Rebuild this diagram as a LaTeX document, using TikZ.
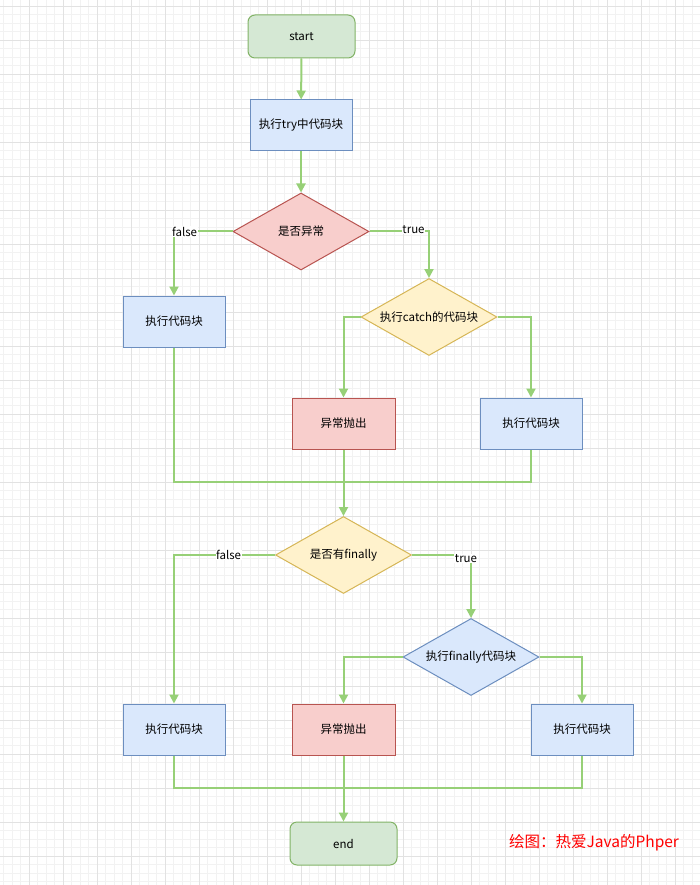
\documentclass[tikz,border=0pt]{standalone}
\usepackage{fontspec}
\setmainfont{Noto Sans CJK SC}
\usetikzlibrary{shapes.geometric,arrows.meta}
\definecolor{gfill}{HTML}{D5E8D4}\definecolor{gline}{HTML}{82B366}
\definecolor{bfill}{HTML}{DAE8FC}\definecolor{bline}{HTML}{6C8EBF}
\definecolor{rfill}{HTML}{F8CECC}\definecolor{rline}{HTML}{B85450}
\definecolor{yfill}{HTML}{FFF2CC}\definecolor{yline}{HTML}{D6B656}
\definecolor{edge}{HTML}{97D077}
\definecolor{gridminor}{HTML}{F2F2F2}\definecolor{gridmajor}{HTML}{E2E2E2}
\tikzset{
  base/.style={draw, line width=1pt, inner sep=0pt, font=\fontsize{11.5}{13}\selectfont},
  term/.style={base, draw=gline, fill=gfill, rounded corners=7pt, minimum width=107pt, minimum height=43pt},
  bluebox/.style={base, draw=bline, fill=bfill, minimum width=102pt, minimum height=51pt},
  redbox/.style={base, draw=rline, fill=rfill, minimum width=103pt, minimum height=51pt},
  decision/.style={base, diamond, aspect=1.77, minimum width=136pt, minimum height=77pt},
  flow/.style={draw=edge, line width=2pt, -{Triangle[length=9pt, width=9pt]}},
  link/.style={draw=edge, line width=2pt},
  lbl/.style={fill=white, inner sep=0.5pt, font=\fontsize{11.5}{13}\selectfont},
}
\begin{document}
\begin{tikzpicture}[x=1pt, y=-1pt]
\useasboundingbox (0,0) rectangle (700,885);
\fill[white] (0,0) rectangle (700,885);
% Raster
\foreach \i in {0,...,82} {
  \draw[gridminor, line width=0.8pt] ({3.8+8.5*\i},0) -- ({3.8+8.5*\i},885);
}
\foreach \i in {0,...,104} {
  \draw[gridminor, line width=0.8pt] (0,{6.3+8.5*\i}) -- (700,{6.3+8.5*\i});
}
\foreach \i in {0,...,20} {
  \draw[gridmajor, line width=1pt] ({29.3+34*\i},0) -- ({29.3+34*\i},885);
}
\foreach \i in {0,...,25} {
  \draw[gridmajor, line width=1pt] (0,{6.3+34*\i}) -- (700,{6.3+34*\i});
}
% Knoten
\node[term] (start) at (301.5,36.5) {start};
\node[bluebox] (try) at (301,125.5) {执行try中代码块};
\node[decision, draw=rline, fill=rfill] (exc) at (301,231.5) {是否异常};
\node[bluebox] (plain1) at (174,321.5) {执行代码块};
\node[decision, draw=yline, fill=yfill] (catch) at (429,317) {执行catch的代码块};
\node[redbox] (throw1) at (343.5,423.5) {异常抛出};
\node[bluebox] (run1) at (531,423.5) {执行代码块};
\node[decision, draw=yline, fill=yfill] (fin) at (343.5,555) {是否有finally};
\node[decision, draw=bline, fill=bfill] (dofin) at (471,657) {执行finally代码块};
\node[bluebox] (plain2) at (174,729.5) {执行代码块};
\node[redbox] (throw2) at (343.5,729.5) {异常抛出};
\node[bluebox] (run2) at (582,729.5) {执行代码块};
\node[term] (end) at (343.5,843.5) {end};
\coordinate (join1) at (343.5,482);
\coordinate (join2) at (343.5,788);
% Verbindungen
\draw[flow] (start) -- (try);
\draw[flow] (try) -- (exc);
\draw[flow] (exc.west) -| node[lbl, pos=0.41] {false} (plain1.north);
\draw[flow] (exc.east) -| node[lbl, pos=0.37, yshift=2pt] {true} (catch.north);
\draw[flow] (catch.west) -| (throw1.north);
\draw[flow] (catch.east) -| (run1.north);
\draw[link] (plain1.south) |- (join1);
\draw[link] (run1.south) |- (join1);
\draw[flow] (throw1) -- (fin);
\draw[flow] (fin.west) -| node[lbl, pos=0.23] {false} (plain2.north);
\draw[flow] (fin.east) -| node[lbl, pos=0.53, xshift=-5pt] {true} (dofin.north);
\draw[flow] (dofin.west) -| (throw2.north);
\draw[flow] (dofin.east) -| (run2.north);
\draw[link] (plain2.south) |- (join2);
\draw[link] (run2.south) |- (join2);
\draw[flow] (throw2) -- (end);
% Signatur
\node[text=red, font=\fontsize{15.5}{18}\selectfont] (credit) at (594,843) {绘图：热爱Java的Phper};
\end{tikzpicture}
\end{document}
